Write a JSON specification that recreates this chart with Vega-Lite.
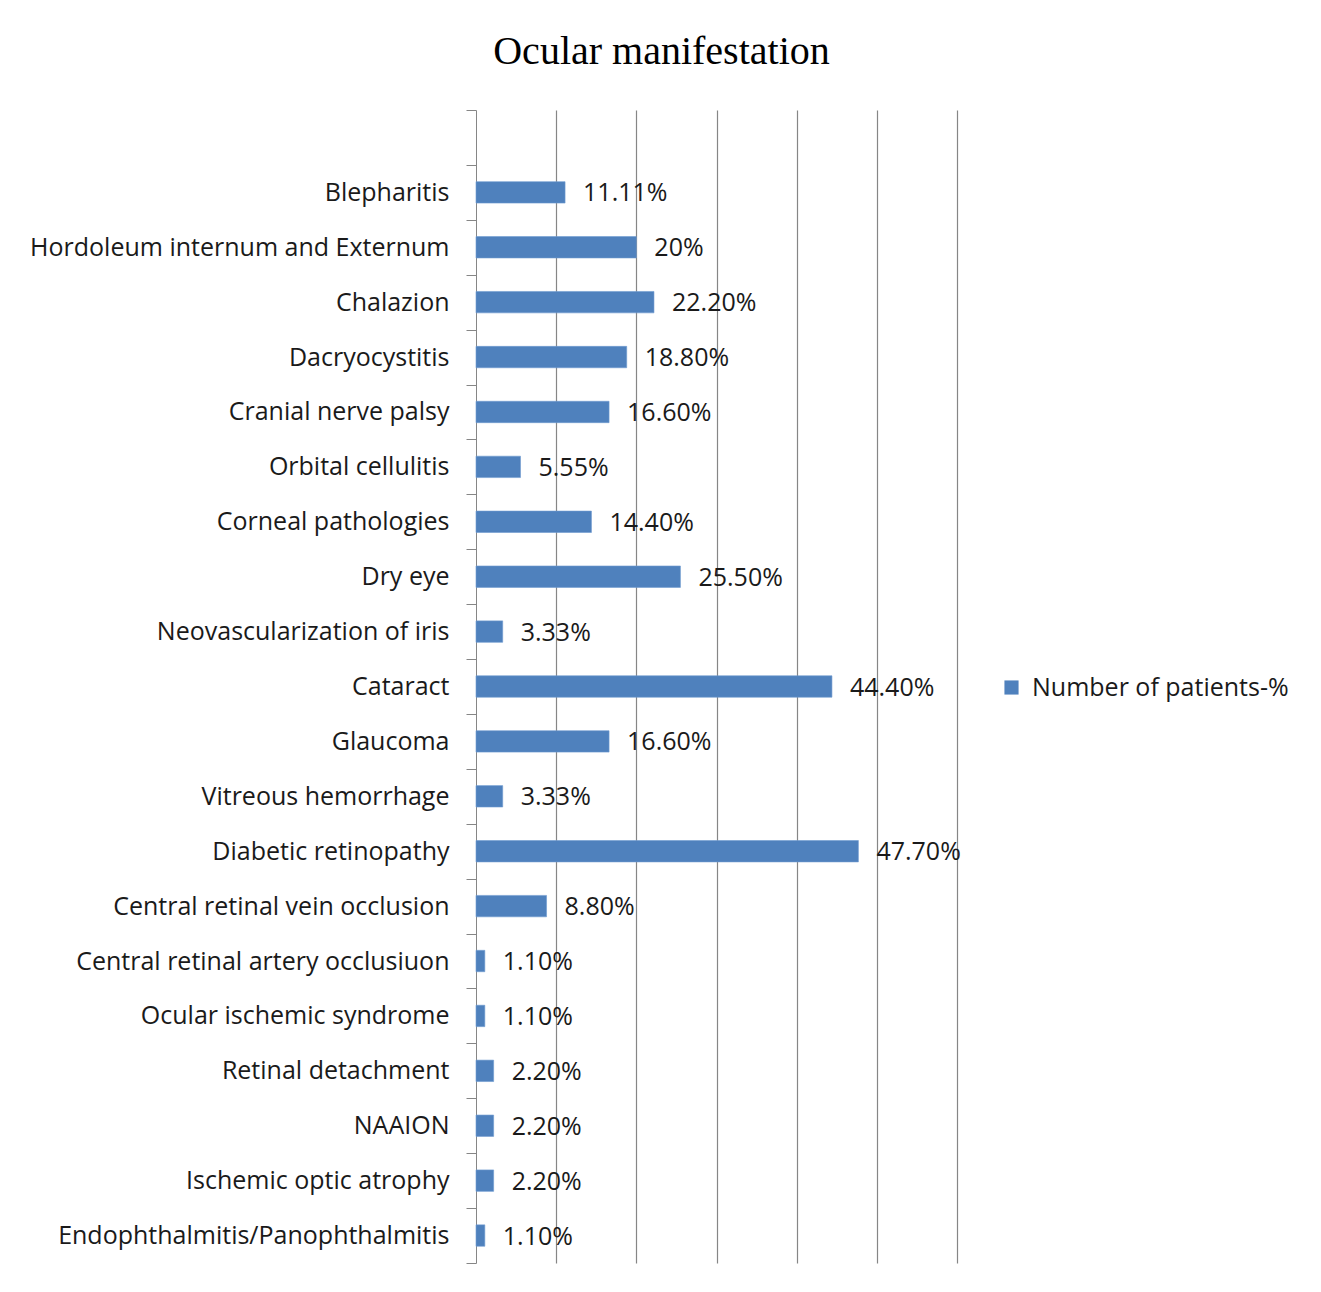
{
  "$schema": "https://vega.github.io/schema/vega-lite/v6.json",
  "autosize": {"type": "none"},
  "padding": {"left": 476, "top": 110, "right": 364, "bottom": 29},
  "width": 481,
  "height": 1153,
  "background": "white",
  "title": {
    "text": "Ocular manifestation",
    "font": "Liberation Serif",
    "fontSize": 40,
    "fontWeight": "normal",
    "color": "#000000",
    "anchor": "middle",
    "frame": "group",
    "dx": -55,
    "offset": 26
  },
  "data": {
    "values": [
      {"cat": "Blepharitis", "value": 11.11, "label": "11.11%"},
      {"cat": "Hordoleum internum and Externum", "value": 20, "label": "20%"},
      {"cat": "Chalazion", "value": 22.2, "label": "22.20%"},
      {"cat": "Dacryocystitis", "value": 18.8, "label": "18.80%"},
      {"cat": "Cranial nerve  palsy", "value": 16.6, "label": "16.60%"},
      {"cat": "Orbital cellulitis", "value": 5.55, "label": "5.55%"},
      {"cat": "Corneal pathologies", "value": 14.4, "label": "14.40%"},
      {"cat": "Dry eye", "value": 25.5, "label": "25.50%"},
      {"cat": "Neovascularization of iris", "value": 3.33, "label": "3.33%"},
      {"cat": "Cataract", "value": 44.4, "label": "44.40%"},
      {"cat": "Glaucoma", "value": 16.6, "label": "16.60%"},
      {"cat": "Vitreous hemorrhage", "value": 3.33, "label": "3.33%"},
      {"cat": "Diabetic retinopathy", "value": 47.7, "label": "47.70%"},
      {"cat": "Central retinal vein occlusion", "value": 8.8, "label": "8.80%"},
      {"cat": "Central retinal artery occlusiuon", "value": 1.1, "label": "1.10%"},
      {"cat": "Ocular ischemic syndrome", "value": 1.1, "label": "1.10%"},
      {"cat": "Retinal detachment", "value": 2.2, "label": "2.20%"},
      {"cat": "NAAION", "value": 2.2, "label": "2.20%"},
      {"cat": "Ischemic optic atrophy", "value": 2.2, "label": "2.20%"},
      {"cat": "Endophthalmitis/Panophthalmitis", "value": 1.1, "label": "1.10%"}
    ]
  },
  "encoding": {
    "y": {
      "field": "cat",
      "type": "nominal",
      "scale": {
        "domain": [" ", "Blepharitis", "Hordoleum internum and Externum", "Chalazion", "Dacryocystitis", "Cranial nerve  palsy", "Orbital cellulitis", "Corneal pathologies", "Dry eye", "Neovascularization of iris", "Cataract", "Glaucoma", "Vitreous hemorrhage", "Diabetic retinopathy", "Central retinal vein occlusion", "Central retinal artery occlusiuon", "Ocular ischemic syndrome", "Retinal detachment", "NAAION", "Ischemic optic atrophy", "Endophthalmitis/Panophthalmitis"],
        "paddingInner": 0,
        "paddingOuter": 0
      },
      "axis": {
        "title": null,
        "tickBand": "extent",
        "tickSize": 10,
        "tickColor": "#868686",
        "domainColor": "#868686",
        "labelPadding": 17,
        "labelFont": "Open Sans",
        "labelFontSize": 25,
        "labelColor": "#1a1a1a",
        "labelLimit": 600,
        "grid": false
      }
    },
    "x": {
      "field": "value",
      "type": "quantitative",
      "scale": {"domain": [0, 60], "nice": false, "zero": true},
      "axis": {
        "title": null,
        "labels": false,
        "ticks": false,
        "domain": false,
        "grid": true,
        "values": [10, 20, 30, 40, 50, 60],
        "gridColor": "#868686",
        "gridWidth": 1.2,
        "gridOpacity": 1
      }
    }
  },
  "layer": [
    {
      "mark": {"type": "bar", "height": {"band": 0.39}, "stroke": "#6F9AD0", "strokeWidth": 0.6},
      "encoding": {
        "color": {
          "datum": "Number of patients-%",
          "scale": {"range": ["#4F81BD"]},
          "legend": {
            "title": null,
            "orient": "none",
            "legendX": 523,
            "legendY": 565,
            "symbolType": "square",
            "symbolSize": 200,
            "symbolStrokeWidth": 0,
            "labelFont": "Open Sans",
            "labelFontSize": 25,
            "labelColor": "#1a1a1a",
            "labelLimit": 400,
            "labelOffset": 8
          }
        }
      }
    },
    {
      "mark": {"type": "text", "align": "left", "baseline": "middle", "dx": 18, "dy": 1, "font": "Open Sans", "fontSize": 25, "color": "#1a1a1a"},
      "encoding": {"text": {"field": "label"}}
    }
  ],
  "config": {"view": {"stroke": null}}
}
